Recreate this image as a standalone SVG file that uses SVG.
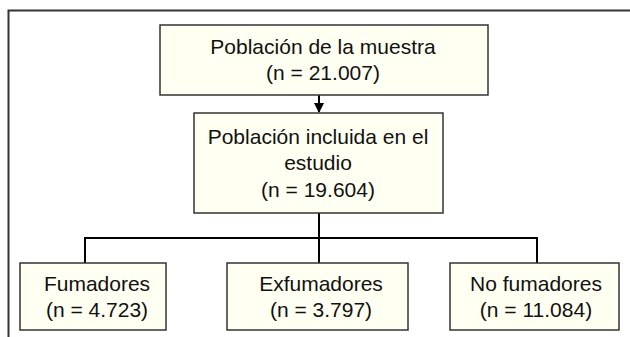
<svg xmlns="http://www.w3.org/2000/svg" width="630" height="337" viewBox="0 0 630 337">
<style>
.box{fill:#fffff2;stroke:#333;stroke-width:1.5}
.t{font-family:"Liberation Sans",Arial,sans-serif;font-size:21px;fill:#111;text-anchor:middle}
.c{fill:none;stroke:#000;stroke-width:2}
</style>
<defs>
<marker id="ah" markerWidth="10" markerHeight="10" refX="9" refY="5" orient="auto" markerUnits="userSpaceOnUse">
<path d="M0,0 L10,5 L0,10 z" fill="#000"/>
</marker>
</defs>
<rect width="630" height="337" fill="#fff"/>
<path d="M8.5,337 V10.5 H630" fill="none" stroke="#333" stroke-width="2"/>
<g id="connectors">
<line class="c" x1="319" y1="95" x2="319" y2="112" marker-end="url(#ah)"/>
<path class="c" d="M319,213 V263 M85,263 V238 H537 V263"/>
</g>
<g id="muestra">
<rect class="box" x="160" y="25" width="328" height="70"/>
<text class="t" x="323" y="54">Población de la muestra</text>
<text class="t" x="323" y="80">(n = 21.007)</text>
</g>
<g id="incluida">
<rect class="box" x="194" y="113" width="249" height="100"/>
<text class="t" x="318" y="144">Población incluida en el</text>
<text class="t" x="318" y="170">estudio</text>
<text class="t" x="318" y="197">(n = 19.604)</text>
</g>
<g id="fumadores">
<rect class="box" x="20" y="263" width="146" height="67"/>
<text class="t" x="97" y="291">Fumadores</text>
<text class="t" x="97" y="317">(n = 4.723)</text>
</g>
<g id="exfumadores">
<rect class="box" x="227" y="263" width="181" height="67"/>
<text class="t" x="321" y="291">Exfumadores</text>
<text class="t" x="321" y="317">(n = 3.797)</text>
</g>
<g id="nofumadores">
<rect class="box" x="450" y="263" width="169" height="67"/>
<text class="t" x="536" y="291">No fumadores</text>
<text class="t" x="536" y="317">(n = 11.084)</text>
</g>
</svg>
